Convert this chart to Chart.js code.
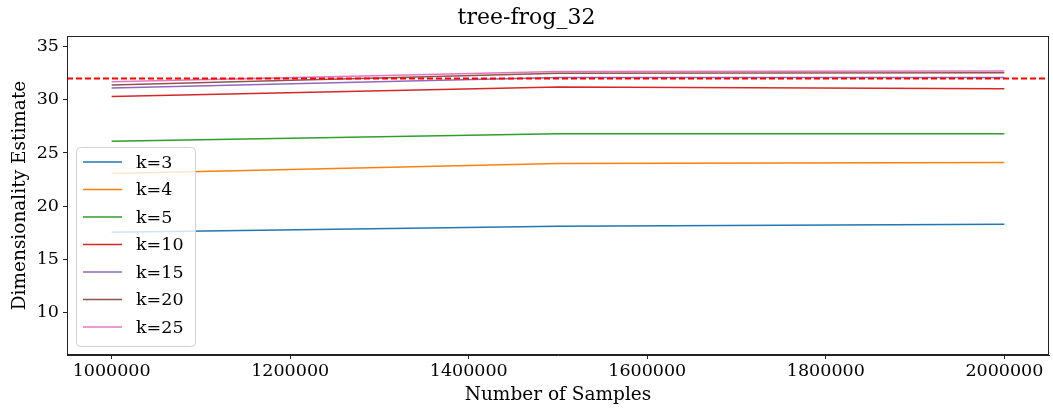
<!DOCTYPE html>
<html>
<head>
<meta charset="utf-8">
<script src="https://cdn.jsdelivr.net/npm/chart.js@4"></script>
<style>
  html, body { margin: 0; padding: 0; background: #fff; }
  #wrap { width: 1053px; height: 410px; }
</style>
</head>
<body>
<div id="wrap"><canvas id="chart"></canvas></div>
<script>
// data
const samples = [1000000, 1500000, 2000000];
const kLabels = ["k=3", "k=4", "k=5", "k=10", "k=15", "k=20", "k=25"];
const k3 = [17.55, 18.1, 18.3];
const k4 = [23.08, 24.0, 24.1];
const k5 = [26.1, 26.8, 26.8];
const k10 = [30.3, 31.2, 31.05];
const k15 = [31.1, 32.1, 32.1];
const k20 = [31.4, 32.5, 32.55];
const k25 = [31.7, 32.65, 32.7];
const trueDim = 32;
const xTicks = [1000000, 1200000, 1400000, 1600000, 1800000, 2000000];
const yTicks = [10, 15, 20, 25, 30, 35];

const series = [k3, k4, k5, k10, k15, k20, k25];
const colors = ["#1f77b4", "#ff7f0e", "#2ca02c", "#d62728", "#9467bd", "#8c564b", "#e377c2"];
const FONT = "'DejaVu Serif', serif";

const datasets = series.map((vals, i) => ({
    label: kLabels[i],
    data: vals.map((v, j) => ({ x: samples[j], y: v })),
    borderColor: colors[i],
    backgroundColor: colors[i],
    borderWidth: 1.5,
    pointRadius: 0,
    fill: false,
    tension: 0
}));

// frame, reference line and legend inside the axes
const extras = {
    id: "extras",
    afterDatasetsDraw(chart) {
        const ctx = chart.ctx;
        const a = chart.chartArea;
        const y = chart.scales.y.getPixelForValue(trueDim);
        ctx.save();
        ctx.strokeStyle = "#ff0000";
        ctx.lineWidth = 2;
        ctx.setLineDash([6, 3]);
        ctx.beginPath();
        ctx.moveTo(a.left, y);
        ctx.lineTo(a.right, y);
        ctx.stroke();
        ctx.setLineDash([]);

        ctx.strokeStyle = "#222";
        ctx.lineWidth = 1;
        ctx.strokeRect(a.left + 0.5, a.top + 0.5, a.right - a.left - 1, a.bottom - a.top - 1);

        // legend
        const bx = 76, by = 147, bw = 119, bh = 199, r = 4;
        ctx.fillStyle = "rgba(255,255,255,0.8)";
        ctx.strokeStyle = "#d0d0d0";
        ctx.beginPath();
        ctx.roundRect(bx + 0.5, by + 0.5, bw, bh, r);
        ctx.fill();
        ctx.stroke();
        ctx.font = "17.5px " + FONT;
        ctx.textBaseline = "middle";
        ctx.textAlign = "left";
        chart.data.datasets.forEach((ds, i) => {
            const ly = 162 + i * 27.5;
            ctx.strokeStyle = ds.borderColor;
            ctx.lineWidth = 1.5;
            ctx.beginPath();
            ctx.moveTo(83, ly);
            ctx.lineTo(122, ly);
            ctx.stroke();
            ctx.fillStyle = "#000";
            ctx.fillText(ds.label, 136, ly + 1);
        });
        ctx.restore();
    }
};

new Chart(document.getElementById("chart"), {
    type: "line",
    data: { datasets: datasets },
    plugins: [extras],
    options: {
        responsive: true,
        maintainAspectRatio: false,
        animation: false,
        layout: { padding: { left: 4, right: 4, top: 0, bottom: 0 } },
        plugins: {
            legend: { display: false },
            tooltip: { enabled: false },
            title: {
                display: true,
                text: "tree-frog_32",
                color: "#000",
                font: { family: FONT, size: 22, weight: "normal" },
                padding: { top: 5, bottom: 4.6 }
            }
        },
        scales: {
            x: {
                type: "linear",
                min: 950000,
                max: 2050000,
                afterBuildTicks: s => { s.ticks = xTicks.map(v => ({ value: v })); },
                afterFit: s => { s.height = 55; },
                ticks: {
                    color: "#000",
                    font: { family: FONT, size: 17.5 },
                    maxRotation: 0,
                    padding: 2,
                    callback: v => String(v)
                },
                grid: { drawOnChartArea: false, drawTicks: true, tickLength: 4, color: "#222" },
                border: { display: true, color: "#222" },
                title: {
                    display: true,
                    text: "Number of Samples",
                    color: "#000",
                    font: { family: FONT, size: 18.5 },
                    padding: { top: 0, bottom: 4 }
                }
            },
            y: {
                min: 6,
                max: 36,
                afterBuildTicks: s => { s.ticks = yTicks.map(v => ({ value: v })); },
                afterFit: s => { s.width = 63; },
                ticks: {
                    color: "#000",
                    font: { family: FONT, size: 17.5 },
                    padding: 4,
                    callback: v => String(v)
                },
                grid: { drawOnChartArea: false, drawTicks: true, tickLength: 4, color: "#222" },
                border: { display: true, color: "#222" },
                title: {
                    display: true,
                    text: "Dimensionality Estimate",
                    color: "#000",
                    font: { family: FONT, size: 18.5 },
                    padding: { top: 5, bottom: 0 }
                }
            }
        }
    }
});
</script>
</body>
</html>
